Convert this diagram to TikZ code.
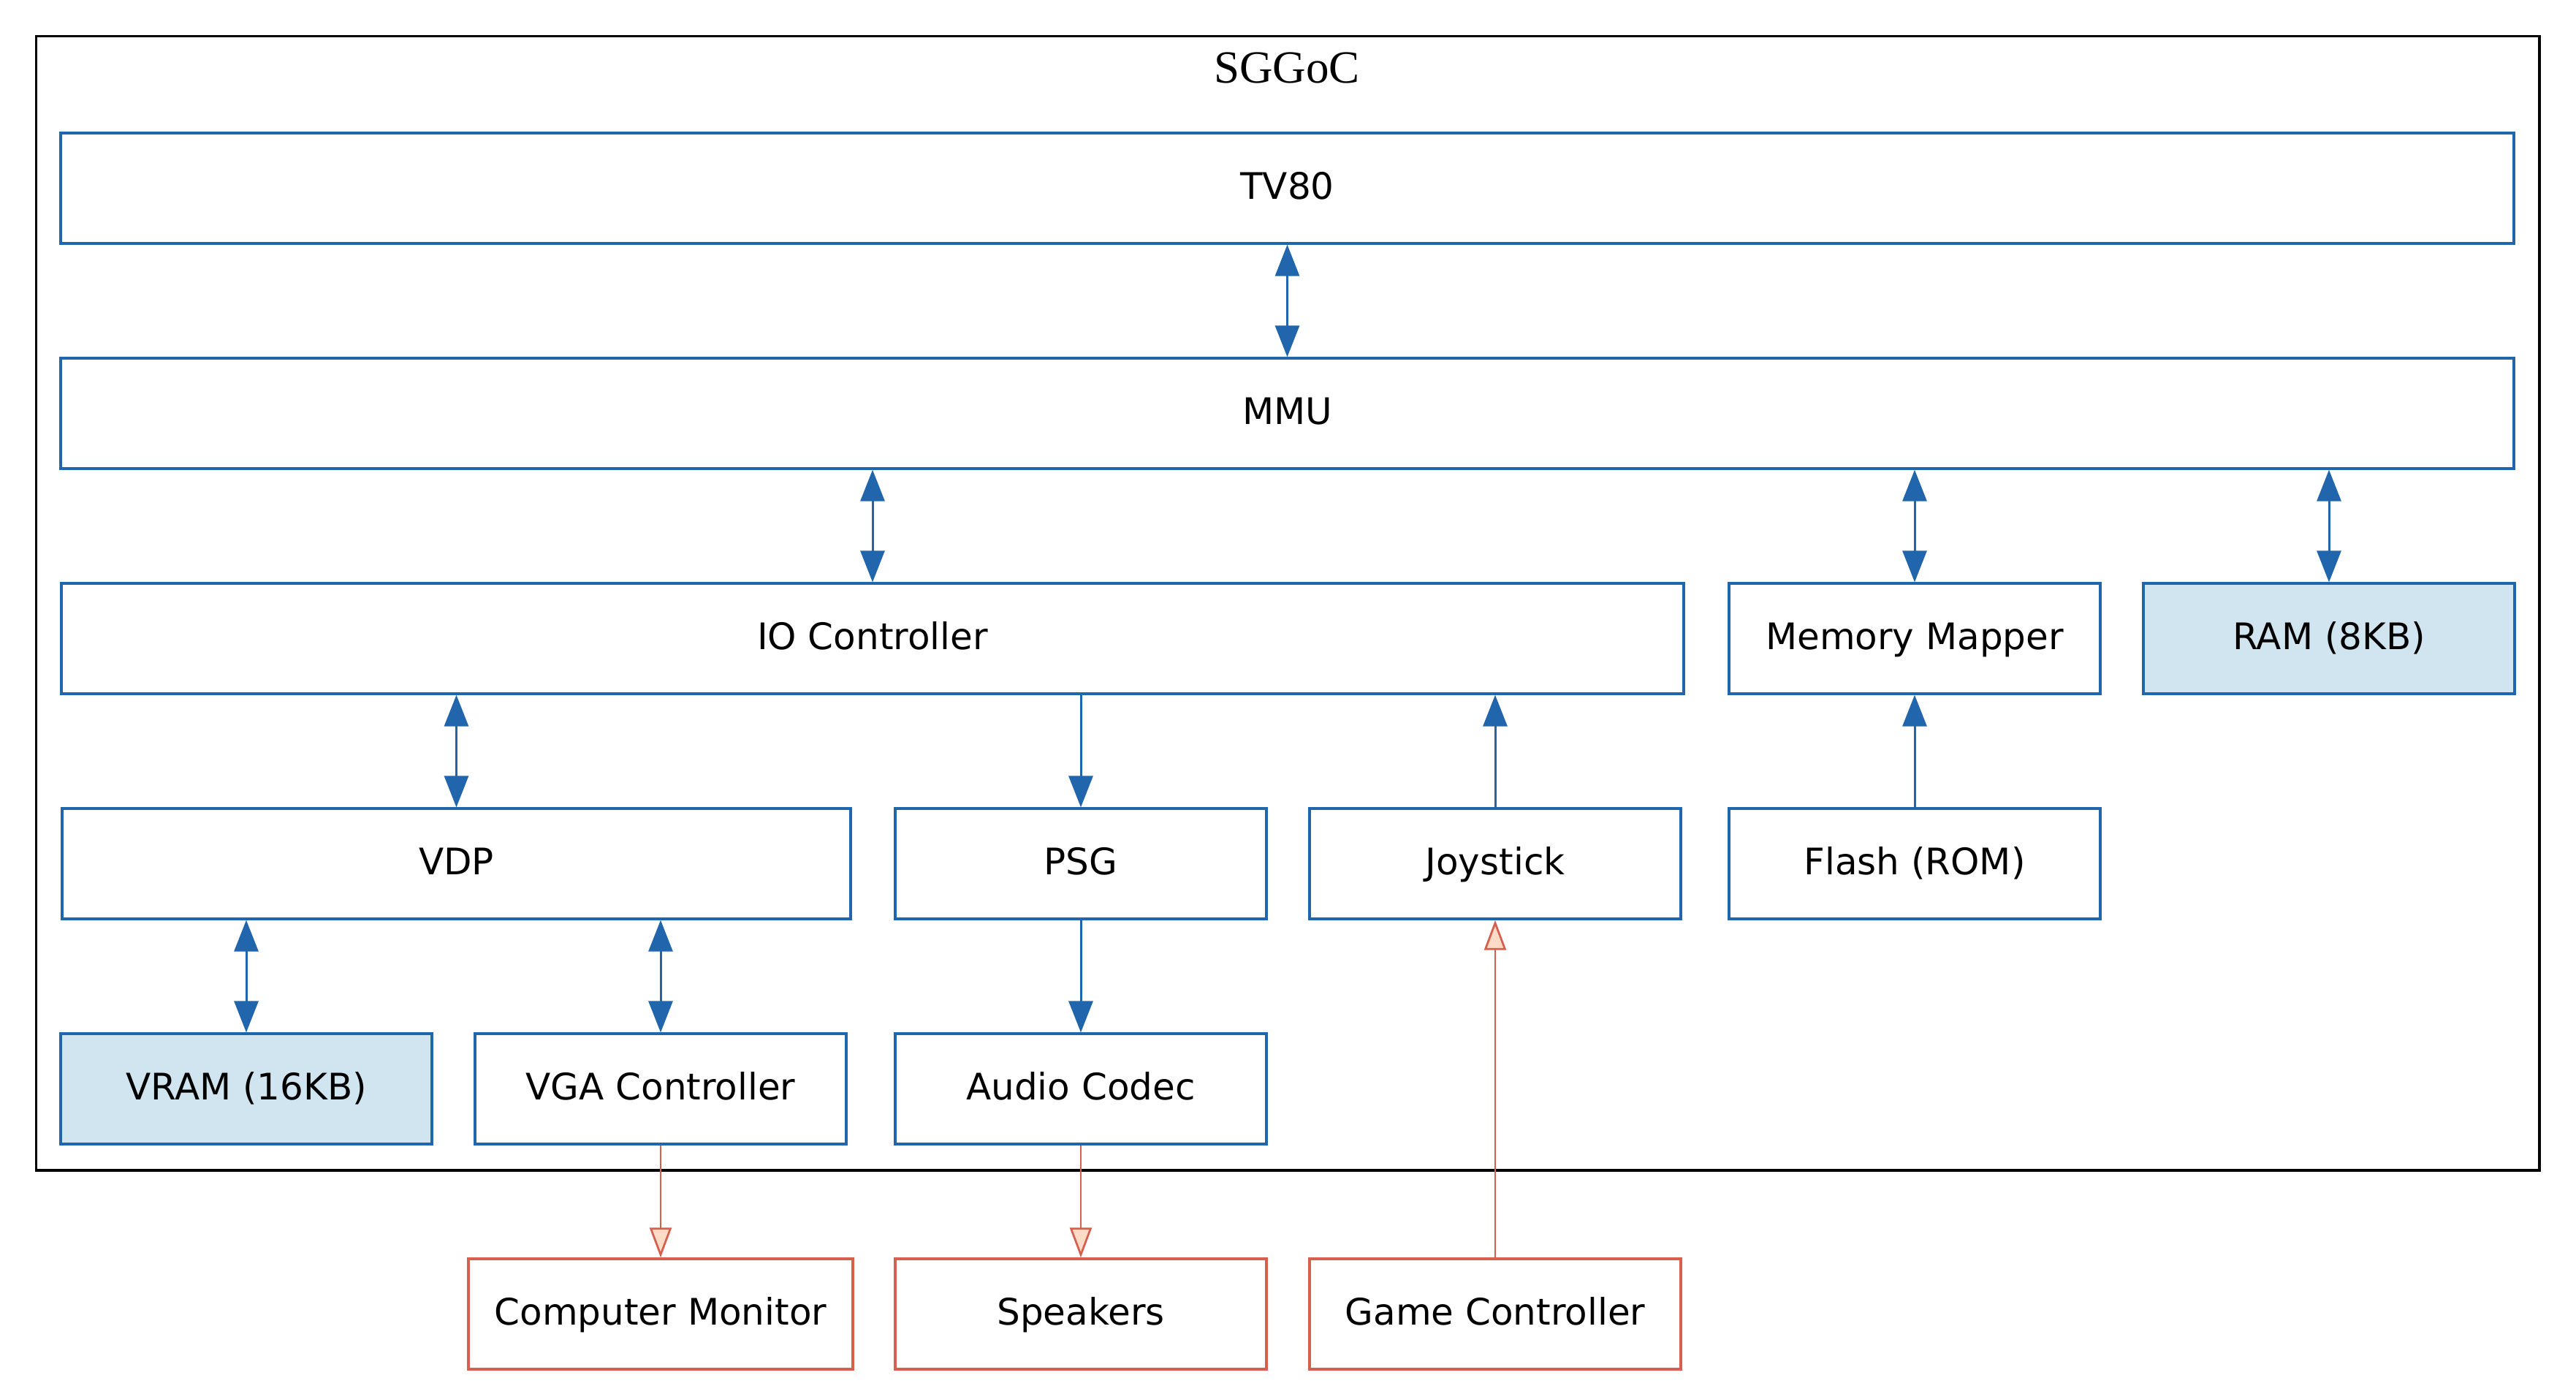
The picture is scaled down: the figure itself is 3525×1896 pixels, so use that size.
\documentclass[tikz,border=0pt]{standalone}
\usepackage{fontspec}
\usetikzlibrary{arrows.meta}
\newfontfamily\boxfont{DejaVu Sans}
\newfontfamily\titlefont{Liberation Serif}
\definecolor{cblue}{HTML}{2166AC}
\definecolor{cfill}{HTML}{D1E5F0}
\definecolor{cred}{HTML}{D6604D}
\definecolor{cpeach}{HTML}{FDDBC7}
\tikzset{
  unit/.style={draw=cblue, line width=0.65pt, rectangle, inner sep=0pt,
    minimum height=30.2pt, text height=8pt, text depth=2.2pt,
    font=\boxfont\fontsize{10pt}{12pt}\selectfont},
  memory/.style={unit, fill=cfill},
  external/.style={unit, draw=cred},
  bus/.style={draw=cblue, line width=0.6pt,
    {Triangle[length=8.6pt, width=6.6pt]}-{Triangle[length=8.6pt, width=6.6pt]}},
  feed/.style={draw=cblue, line width=0.6pt, -{Triangle[length=8.6pt, width=6.6pt]}},
  wire/.style={draw=cred, line width=0.55pt,
    -{Triangle[open, length=8.2pt, width=6pt, fill=cpeach]}},
}
\begin{document}
\begin{tikzpicture}[x=0.2pt, y=-0.2pt]
\useasboundingbox (0,0) rectangle (3525,1896);

% system boundary
\draw[line width=0.7pt] (49.5,49.5) rectangle (3475,1601);
\node[font=\titlefont\fontsize{12.6pt}{15pt}\selectfont, anchor=base, inner sep=0pt] (title) at (1761,113) {SGGoC};

% core
\node[unit, minimum width=671.4pt] (tv80) at (1761.5,257.5) {TV80};
\node[unit, minimum width=671.4pt] (mmu) at (1761.5,565.5) {MMU};

% third row
\node[unit, minimum width=444pt] (io) at (1194,873.5) {IO Controller};
\node[unit, minimum width=101.6pt] (mapper) at (2620,873.5) {Memory Mapper};
\node[memory, minimum width=101.6pt] (ram) at (3187,873.5) {RAM (8KB)};

% fourth row
\node[unit, minimum width=215.8pt] (vdp) at (624.5,1181.5) {VDP};
\node[unit, minimum width=101.6pt] (psg) at (1479,1181.5) {PSG};
\node[unit, minimum width=101.6pt] (joy) at (2046,1181.5) {Joystick};
\node[unit, minimum width=101.6pt] (flash) at (2620,1181.5) {Flash (ROM)};

% fifth row
\node[memory, minimum width=101.6pt] (vram) at (337,1489.5) {VRAM (16KB)};
\node[unit, minimum width=101.6pt] (vga) at (904,1489.5) {VGA Controller};
\node[unit, minimum width=101.6pt] (codec) at (1479,1489.5) {Audio Codec};

% outside devices
\node[external, minimum width=105.2pt] (monitor) at (904,1797.5) {Computer Monitor};
\node[external, minimum width=101.6pt] (speakers) at (1479,1797.5) {Speakers};
\node[external, minimum width=101.6pt] (pad) at (2046,1797.5) {Game Controller};

% buses
\draw[bus] (tv80.south) -- (mmu.north);
\draw[bus] (mmu.south -| io.north) -- (io.north);
\draw[bus] (mmu.south -| mapper.north) -- (mapper.north);
\draw[bus] (mmu.south -| ram.north) -- (ram.north);
\draw[bus] (io.south -| vdp.north) -- (vdp.north);
\draw[bus] (vdp.south -| vram.north) -- (vram.north);
\draw[bus] (vdp.south -| vga.north) -- (vga.north);

% one-way links
\draw[feed] (io.south -| psg.north) -- (psg.north);
\draw[feed] (joy.north) -- (io.south -| joy.north);
\draw[feed] (flash.north) -- (mapper.south);
\draw[feed] (psg.south) -- (codec.north);

% external wiring
\draw[wire] (vga.south) -- (monitor.north);
\draw[wire] (codec.south) -- (speakers.north);
\draw[wire] (pad.north) -- (joy.south);
\end{tikzpicture}
\end{document}
